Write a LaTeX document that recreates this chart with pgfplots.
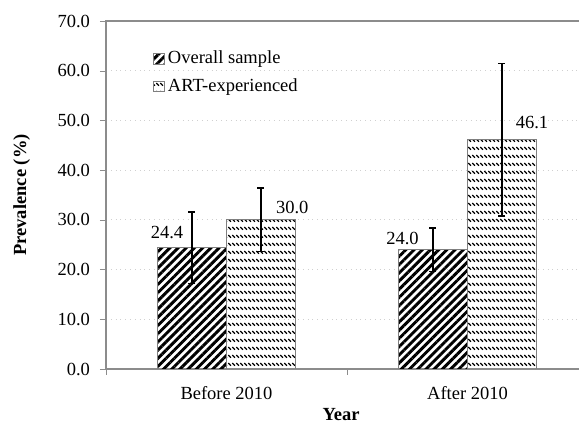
\documentclass[border=0pt]{standalone}
\usepackage{fontspec}
\setmainfont{Liberation Serif}
\usepackage{pgfplots}
\usepackage{pgfplotstable}
\pgfplotsset{compat=1.18}
\usetikzlibrary{patterns.meta}
\definecolor{axgray}{HTML}{8C8C8C}
\definecolor{gridgray}{HTML}{D0D0D0}
\definecolor{bargray}{HTML}{7F7F7F}
\tikzdeclarepattern{
  name=artdash,
  type=uncolored,
  bounding box={(-0.5pt,-0.5pt) and (2.5pt,4.5pt)},
  tile size={(2pt,4pt)},
  code={\draw[line width=0.6pt,line cap=butt] (0.15pt,3.45pt) -- (1.5pt,2.15pt);}
}
\pgfplotstableread{
x y err dx dy
0.85685 24.4 7.2 -12.5 7.7
1.85685 24.0 4.4 -15.25 5.8
}\tabA
\pgfplotstableread{
x y err dx dy
1.14315 30.0 6.4 15.6 6.0
2.14315 46.1 15.3 15.0 8.65
}\tabB
\begin{document}
\begin{tikzpicture}
\path[use as bounding box] (-53pt,-28.5pt) rectangle (236.5pt,184.5pt);
\begin{axis}[
  at={(0pt,0pt)}, anchor=south west,
  scale only axis, width=241pt, height=174pt,
  xmin=0.5, xmax=2.5, ymin=0, ymax=70,
  ytick={0,10,...,70},
  xtick={1,2}, xticklabels={Before 2010, After 2010},
  minor xtick={0.5,1.5,2.5},
  major x tick style={draw=none},
  minor x tick style={draw=axgray},
  major tick length=3pt, minor tick length=3pt,
  tick align=outside, tick pos=left,
  axis line style={draw=axgray, line width=0.8pt},
  ytick style={draw=axgray},
  ymajorgrids, grid style={gridgray, dotted, line width=0.5pt},
  font=\fontsize{9.25}{11}\selectfont,
  /pgf/number format/assume math mode=true,
  yticklabel={\pgfmathprintnumber[fixed,fixed zerofill,precision=1]{\tick}},
  yticklabel style={xshift=-1.5pt},
  xticklabel style={yshift=-2pt},
  every axis x label/.style={at={(axis description cs:0.4876,-0.131)}, anchor=center},
  every axis y label/.style={at={(axis description cs:-0.175,0.5)}, rotate=90, anchor=center},
  xlabel={\textbf{Year}},
  ylabel={\textbf{Prevalence (\%)}},
  legend style={at={(axis description cs:0.097,0.927)}, anchor=north west, draw=none, fill=none,
    font=\fontsize{9.25}{11}\selectfont, row sep=2pt, inner sep=0pt, cells={anchor=west},
    nodes={inner xsep=1.8pt}},
  legend image code/.code={\draw[#1, draw=bargray, line width=0.4pt] (0pt,-2.6pt) rectangle (5.2pt,2.6pt);},
  nodes near coords={\pgfmathprintnumber[fixed,fixed zerofill,precision=1]{\pgfplotspointmeta}},
  visualization depends on={\thisrow{dx}\as\dx},
  visualization depends on={\thisrow{dy}\as\dy},
  every node near coord/.append style={anchor=center, xshift=\dx pt, yshift=\dy pt, black, font=\fontsize{9.25}{11}\selectfont},
]
\addplot[ybar, bar width=34.5pt, bar shift=0pt, draw=bargray, line width=0.4pt,
  pattern={Lines[angle=45,distance=2.9pt,line width=1.45pt]}, pattern color=black,
  error bars/.cd, y dir=both, y explicit,
  error bar style={black, line width=0.7pt},
  error mark options={rotate=90, mark size=1.75pt, black, line width=0.7pt}]
  table[x=x, y=y, y error=err]{\tabA};
\addplot[ybar, bar width=34.5pt, bar shift=0pt, draw=bargray, line width=0.4pt,
  pattern=artdash, pattern color=black,
  error bars/.cd, y dir=both, y explicit,
  error bar style={black, line width=0.7pt},
  error mark options={rotate=90, mark size=1.75pt, black, line width=0.7pt}]
  table[x=x, y=y, y error=err]{\tabB};
\legend{Overall sample, ART-experienced}
\end{axis}
\end{tikzpicture}
\end{document}
